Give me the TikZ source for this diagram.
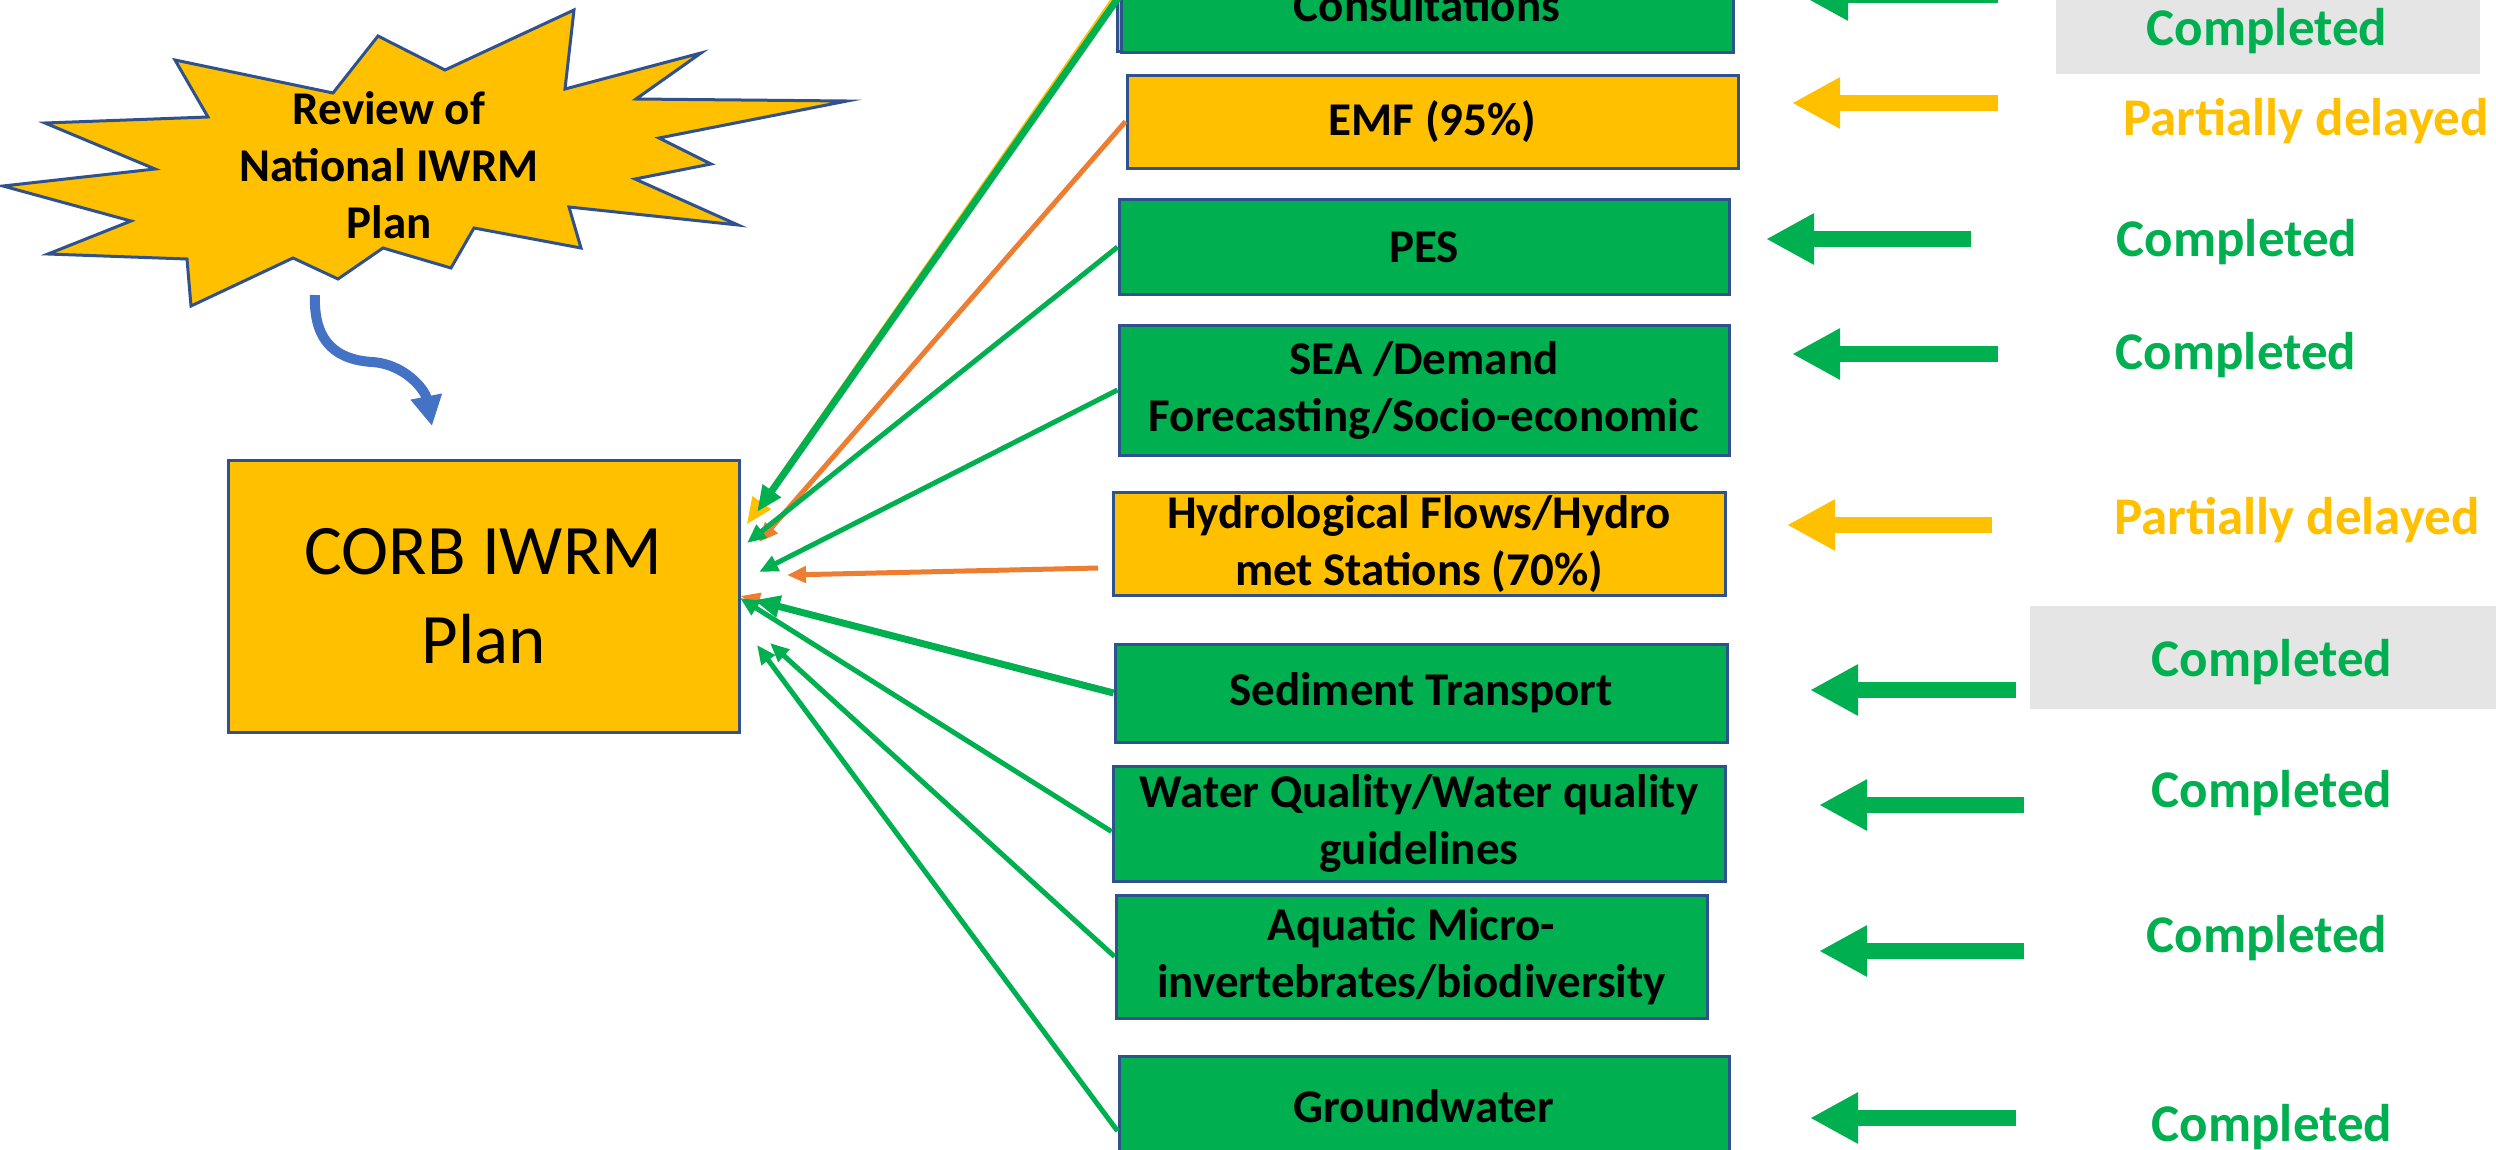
\documentclass[tikz,border=0pt]{standalone}
\usepackage{fontspec}
\setmainfont{Carlito}
\usetikzlibrary{arrows.meta}
\definecolor{cgreen}{HTML}{00B050}
\definecolor{cyellow}{HTML}{FFC000}
\definecolor{corange}{HTML}{ED7D31}
\definecolor{cborder}{HTML}{2F528F}
\definecolor{cblue}{HTML}{4472C4}
\definecolor{cgrey}{HTML}{E5E5E5}
\begin{document}
\begin{tikzpicture}[x=1pt,y=-1pt,
  box/.style={draw=cborder, line width=3pt, inner sep=0pt, align=center,
    font=\fontsize{47}{57}\selectfont\bfseries},
  gbox/.style={box, fill=cgreen},
  ybox/.style={box, fill=cyellow},
  status/.style={font=\fontsize{53}{60}\selectfont\bfseries, anchor=base},
  greybox/.style={fill=cgrey, inner sep=0pt},
  conG/.style={draw=cgreen, line width=5pt, -{Triangle[length=19pt,width=16pt]}},
  conGt/.style={draw=cgreen, line width=7pt, -{Triangle[length=26pt,width=21pt]}},
  conO/.style={draw=corange, line width=5pt, -{Triangle[length=19pt,width=16pt]}},
  conY/.style={draw=cyellow, line width=4pt, -{Triangle[length=26pt,width=22pt]}},
  bigarrow/.style={line width=16pt, -{Triangle[length=48pt,width=48pt]}}
]
\useasboundingbox (0,0) rectangle (2496,1149);
\clip (0,0) rectangle (2496,1149);
\fill[white] (0,0) rectangle (2496,1149);

% starburst
\filldraw[fill=cyellow, draw=cborder, line width=3pt]
  (574,10) -- (565,89) -- (701,53) -- (636,99) -- (847,101) -- (659,138) --
  (711,164) -- (635,179) -- (738,225) -- (569,207) -- (581,248) -- (474,228) --
  (451,268) -- (383,248) -- (338,279) -- (293,258) -- (191,306) -- (187,259) --
  (48,254) -- (131,221) -- (3,186) -- (155,169) -- (45,123) -- (208,117) --
  (175,60) -- (333,93) -- (378,36) -- (445,70) -- cycle;
\node[font=\fontsize{47}{57}\selectfont\bfseries, align=center] (review) at (389,165)
  {Review of\\National IWRM\\Plan};

% CORB box
\node[ybox, font=\fontsize{71}{89}\selectfont\mdseries, minimum width=511pt, minimum height=272pt]
  (corb) at (483.5,596) {CORB IWRM\\Plan};

% blue curved arrow
\coordinate (bs) at (315,295);
\coordinate (bt) at (432,426);
\draw[cblue, line width=10pt, -{Triangle[length=30pt,width=30pt]}]
  (bs) .. controls (313,345) and (340,360) .. (372,362)
       .. controls (405,364) and (425,390) .. (bt);

% right boxes
\node[ybox, minimum width=608pt, minimum height=111pt] (consultback) at (1421,-4.5) {};
\node[gbox, minimum width=612pt, minimum height=113pt] (consult) at (1427,-4) {};
\node[font=\fontsize{47}{57}\selectfont\bfseries, anchor=base] (consultlbl) at (1427,21) {Consultations};
\node[ybox, minimum width=611pt, minimum height=93pt] (emf) at (1432.5,121.5) {EMF (95\%)};
\node[gbox, minimum width=610pt, minimum height=95pt] (pes) at (1424,247) {PES};
\node[gbox, minimum width=610pt, minimum height=130pt] (sea) at (1424,390) {SEA /Demand\\Forecasting/Socio-economic};
\node[ybox, minimum width=612pt, minimum height=103pt] (hydro) at (1419,544) {Hydrological Flows/Hydro\\met Stations (70\%)};
\node[gbox, minimum width=612pt, minimum height=98pt] (sed) at (1421,693) {Sediment Transport};
\node[gbox, minimum width=612pt, minimum height=115pt] (water) at (1419,823.5) {Water Quality/Water quality\\guidelines};
\node[gbox, minimum width=591pt, minimum height=123pt] (aquatic) at (1411.5,956.5) {Aquatic Micro-\\invertebrates/biodiversity};
\node[gbox, minimum width=610pt, minimum height=100pt] (ground) at (1424,1106) {Groundwater};

% connectors
\coordinate (tC) at (757,512);
\coordinate (tCy) at (747,524);
\coordinate (tE) at (759,542);
\coordinate (tP) at (747,543);
\coordinate (tS) at (759,572);
\coordinate (sH) at (1098,568);
\coordinate (tH) at (787,575);
\coordinate (tSedO) at (741,596);
\coordinate (tSed) at (754,600);
\coordinate (tW) at (740,598);
\coordinate (tA) at (770,643);
\coordinate (tG) at (757,645);

\draw[conY] (consultback.west) -- (tCy);
\draw[conGt] (consult.west) -- (tC);
\draw[conO] (emf.west) -- (tE);
\draw[conG] (pes.west) -- (tP);
\draw[conG] (sea.west) -- (tS);
\draw[conO] (sH) -- (tH);
\draw[draw=corange, line width=2.5pt, -{Triangle[length=19pt,width=16pt]}] ([yshift=2pt]sed.west) -- (tSedO);
\draw[conGt] (sed.west) -- (tSed);
\draw[conG] ([yshift=-8pt]water.west) -- (tW);
\draw[conG] (aquatic.west) -- (tA);
\draw[conG] ([yshift=-25pt]ground.west) -- (tG);

% grey boxes
\node[greybox, minimum width=424pt, minimum height=84pt] (g1) at (2268,32) {};
\node[greybox, minimum width=470pt, minimum height=103pt] (g2) at (2265,657.5) {};

% status labels
\node[status, text=cgreen] (s1) at (2267,45) {Completed};
\node[status, text=cyellow] (s2) at (2306,135) {Partially delayed};
\node[status, text=cgreen] (s3) at (2237,256) {Completed};
\node[status, text=cgreen] (s4) at (2236,369) {Completed};
\node[status, text=cyellow] (s5) at (2297,534) {Partially delayed};
\node[status, text=cgreen] (s6) at (2272,676) {Completed};
\node[status, text=cgreen] (s7) at (2272,807) {Completed};
\node[status, text=cgreen] (s8) at (2267,952) {Completed};
\node[status, text=cgreen] (s9) at (2272,1141) {Completed};

% status arrows
\coordinate (a1t) at (1998,-5);  \coordinate (a1h) at (1800,-5);
\coordinate (a2t) at (1998,103); \coordinate (a2h) at (1792,103);
\coordinate (a3t) at (1971,239); \coordinate (a3h) at (1766,239);
\coordinate (a4t) at (1998,354); \coordinate (a4h) at (1792,354);
\coordinate (a5t) at (1992,525); \coordinate (a5h) at (1787,525);
\coordinate (a6t) at (2016,690); \coordinate (a6h) at (1810,690);
\coordinate (a7t) at (2024,805); \coordinate (a7h) at (1819,805);
\coordinate (a8t) at (2024,951); \coordinate (a8h) at (1819,951);
\coordinate (a9t) at (2016,1118); \coordinate (a9h) at (1810,1118);
\draw[bigarrow, cgreen] (a1t) -- (a1h);
\draw[bigarrow, cyellow] (a2t) -- (a2h);
\draw[bigarrow, cgreen] (a3t) -- (a3h);
\draw[bigarrow, cgreen] (a4t) -- (a4h);
\draw[bigarrow, cyellow] (a5t) -- (a5h);
\draw[bigarrow, cgreen] (a6t) -- (a6h);
\draw[bigarrow, cgreen] (a7t) -- (a7h);
\draw[bigarrow, cgreen] (a8t) -- (a8h);
\draw[bigarrow, cgreen] (a9t) -- (a9h);
\end{tikzpicture}
\end{document}
